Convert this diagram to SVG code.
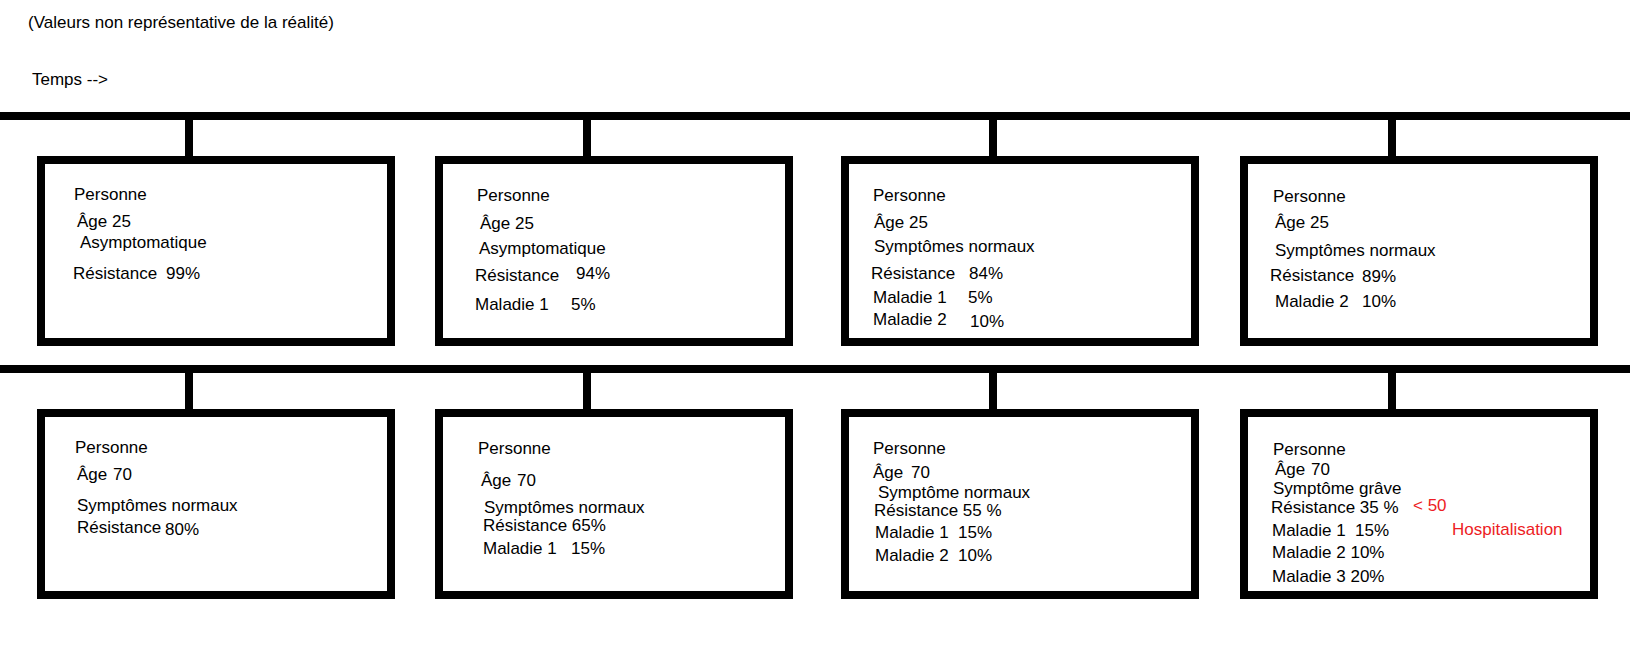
<svg xmlns="http://www.w3.org/2000/svg" width="1630" height="658" viewBox="0 0 1630 658">
<style>
text{font-family:"Liberation Sans",Arial,sans-serif;font-size:17px;fill:#000}
.box{fill:#fff;stroke:#000;stroke-width:8}
.ln{stroke:#000;stroke-width:8;fill:none}
.red{fill:#ed1c24}
</style>
<rect width="1630" height="658" fill="#fff"/>
<g id="header">
<text x="28" y="28">(Valeurs non représentative de la réalité)</text>
<text x="32" y="85">Temps --&gt;</text>
</g>
<g id="connectors">
<line class="ln" x1="0" y1="116" x2="1630" y2="116"/>
<line class="ln" x1="0" y1="369" x2="1630" y2="369"/>
<line class="ln" x1="189" y1="116" x2="189" y2="160"/>
<line class="ln" x1="587" y1="116" x2="587" y2="160"/>
<line class="ln" x1="993" y1="116" x2="993" y2="160"/>
<line class="ln" x1="1392" y1="116" x2="1392" y2="160"/>
<line class="ln" x1="189" y1="369" x2="189" y2="413"/>
<line class="ln" x1="587" y1="369" x2="587" y2="413"/>
<line class="ln" x1="993" y1="369" x2="993" y2="413"/>
<line class="ln" x1="1392" y1="369" x2="1392" y2="413"/>
</g>
<g id="n1">
<rect class="box" x="41" y="160" width="350" height="182"/>
<text x="74" y="200">Personne</text>
<text x="77" y="227">Âge 25</text>
<text x="80" y="248">Asymptomatique</text>
<text y="279"><tspan x="73">Résistance</tspan><tspan x="166">99%</tspan></text>
</g>
<g id="n2">
<rect class="box" x="439" y="160" width="350" height="182"/>
<text x="477" y="201">Personne</text>
<text x="480" y="229">Âge 25</text>
<text x="479" y="254">Asymptomatique</text>
<text x="475" y="281">Résistance</text>
<text x="576" y="279">94%</text>
<text y="310"><tspan x="475">Maladie 1</tspan><tspan x="571">5%</tspan></text>
</g>
<g id="n3">
<rect class="box" x="845" y="160" width="350" height="182"/>
<text x="873" y="201">Personne</text>
<text x="874" y="228">Âge 25</text>
<text x="874" y="252">Symptômes normaux</text>
<text y="279"><tspan x="871">Résistance</tspan><tspan x="969">84%</tspan></text>
<text y="303"><tspan x="873">Maladie 1</tspan><tspan x="968">5%</tspan></text>
<text x="873" y="325">Maladie 2</text>
<text x="970" y="327">10%</text>
</g>
<g id="n4">
<rect class="box" x="1244" y="160" width="350" height="182"/>
<text x="1273" y="202">Personne</text>
<text x="1275" y="228">Âge 25</text>
<text x="1275" y="256">Symptômes normaux</text>
<text x="1270" y="281">Résistance</text>
<text x="1362" y="282">89%</text>
<text y="307"><tspan x="1275">Maladie 2</tspan><tspan x="1362">10%</tspan></text>
</g>
<g id="n5">
<rect class="box" x="41" y="413" width="350" height="182"/>
<text x="75" y="453">Personne</text>
<text y="480"><tspan x="77">Âge</tspan><tspan x="113">70</tspan></text>
<text x="77" y="511">Symptômes normaux</text>
<text x="77" y="533">Résistance</text>
<text x="165" y="535">80%</text>
</g>
<g id="n6">
<rect class="box" x="439" y="413" width="350" height="182"/>
<text x="478" y="454">Personne</text>
<text y="486"><tspan x="481">Âge</tspan><tspan x="517">70</tspan></text>
<text x="484" y="513">Symptômes normaux</text>
<text x="483" y="531">Résistance 65%</text>
<text y="554"><tspan x="483">Maladie 1</tspan><tspan x="571">15%</tspan></text>
</g>
<g id="n7">
<rect class="box" x="845" y="413" width="350" height="182"/>
<text x="873" y="454">Personne</text>
<text y="478"><tspan x="873">Âge</tspan><tspan x="911">70</tspan></text>
<text x="878" y="498">Symptôme normaux</text>
<text x="874" y="516">Résistance 55 %</text>
<text y="538"><tspan x="875">Maladie 1</tspan><tspan x="958">15%</tspan></text>
<text y="561"><tspan x="875">Maladie 2</tspan><tspan x="958">10%</tspan></text>
</g>
<g id="n8">
<rect class="box" x="1244" y="413" width="350" height="182"/>
<text x="1273" y="455">Personne</text>
<text y="475"><tspan x="1275">Âge</tspan><tspan x="1311">70</tspan></text>
<text x="1273" y="494">Symptôme grâve</text>
<text x="1271" y="513">Résistance 35 %</text>
<text class="red" x="1413" y="511">&lt; 50</text>
<text y="536"><tspan x="1272">Maladie 1</tspan><tspan x="1355">15%</tspan></text>
<text class="red" x="1452" y="535">Hospitalisation</text>
<text x="1272" y="558">Maladie 2 10%</text>
<text x="1272" y="582">Maladie 3 20%</text>
</g>
</svg>
